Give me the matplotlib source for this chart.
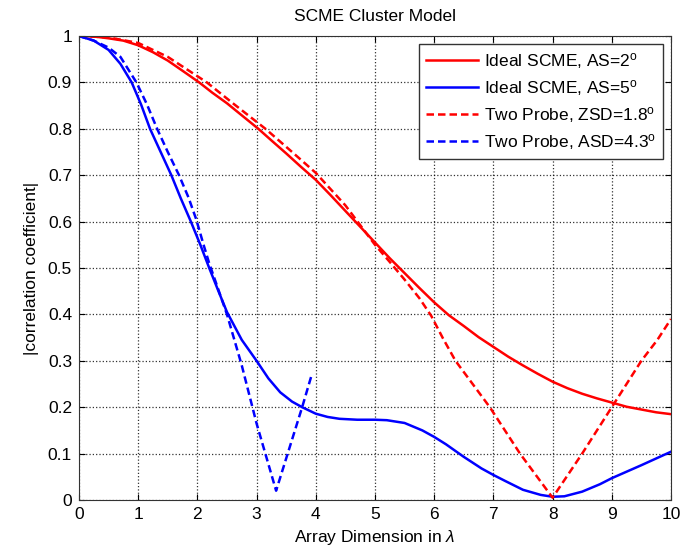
import matplotlib
matplotlib.use("Agg")
import matplotlib.pyplot as plt
import numpy as np

plt.rcParams['font.family'] = ['Liberation Sans', 'DejaVu Sans']
plt.rcParams['mathtext.fontset'] = 'custom'
plt.rcParams['mathtext.rm'] = 'Liberation Sans'
plt.rcParams['mathtext.it'] = 'Liberation Sans:italic'

# ideal SCME, AS = 2 deg (red solid)
x_red = [0, 0.25, 0.5, 0.75, 1, 1.25, 1.5, 1.75, 2.03, 2.25, 2.5, 2.75, 3.03, 3.25, 3.5, 3.75, 4,
         4.25, 4.5, 4.75, 5, 5.25, 5.5, 5.75, 6, 6.25, 6.5, 6.75, 7, 7.25, 7.5, 7.75, 8,
         8.25, 8.5, 8.75, 9, 9.25, 9.5, 9.75, 10]
y_red = [1, 0.999, 0.995, 0.99, 0.98, 0.965, 0.947, 0.925, 0.9, 0.878, 0.855, 0.829, 0.8, 0.775, 0.747, 0.718, 0.69,
         0.657, 0.623, 0.589, 0.555, 0.521, 0.489, 0.457, 0.426, 0.398, 0.375, 0.351, 0.33, 0.309, 0.29, 0.272, 0.255,
         0.241, 0.229, 0.219, 0.21, 0.201, 0.195, 0.189, 0.185]

# two probe, ZSD = 1.8 deg (red dashed)
x_red_d = [0, 0.5, 1, 1.5, 2.16, 2.6, 3.15, 3.6, 4, 4.5, 5, 5.25, 5.5, 5.75, 5.95, 6.15, 6.36, 6.94, 7.45, 8,
           8.5, 9, 9.5, 9.77, 10]
y_red_d = [1, 0.997, 0.985, 0.955, 0.9, 0.855, 0.8, 0.75, 0.705, 0.635, 0.55, 0.513, 0.475, 0.435, 0.397, 0.348, 0.3, 0.2, 0.1, 0.005,
           0.1, 0.2, 0.3, 0.345, 0.39]

# ideal SCME, AS = 5 deg (blue solid)
x_blue = [0, 0.25, 0.5, 0.7, 0.89, 1.05, 1.2, 1.38, 1.56, 1.72, 1.89, 2.05, 2.2, 2.35, 2.5, 2.75, 3.0,
          3.2, 3.4, 3.6, 3.77, 4.0, 4.2, 4.4, 4.7, 5, 5.2, 5.5, 5.8, 6, 6.2, 6.5, 6.8, 7, 7.2,
          7.5, 7.8, 8, 8.2, 8.5, 8.8, 9, 9.5, 10]
y_blue = [1, 0.99, 0.97, 0.94, 0.9, 0.852, 0.8, 0.75, 0.7, 0.65, 0.6, 0.55, 0.5, 0.452, 0.405, 0.345, 0.3,
          0.262, 0.232, 0.212, 0.2, 0.186, 0.179, 0.175, 0.173, 0.173, 0.172, 0.166, 0.15, 0.136, 0.12, 0.093, 0.068, 0.054, 0.041,
          0.022, 0.011, 0.007, 0.008, 0.018, 0.034, 0.047, 0.075, 0.104]

# two probe, ASD = 4.3 deg (blue dashed)
x_blue_d = [0, 0.25, 0.5, 0.7, 0.97, 1.15, 1.32, 1.5, 1.69, 1.85, 1.98, 2.1, 2.2, 2.5, 2.75, 3.0, 3.33, 3.77, 3.92]
y_blue_d = [1, 0.99, 0.975, 0.955, 0.9, 0.852, 0.8, 0.75, 0.7, 0.652, 0.605, 0.552, 0.51, 0.4, 0.29, 0.165, 0.02, 0.2, 0.265]

labels = [r'Ideal SCME, AS=2$^\mathrm{o}$', r'Ideal SCME, AS=5$^\mathrm{o}$',
          r'Two Probe, ZSD=1.8$^\mathrm{o}$', r'Two Probe, ASD=4.3$^\mathrm{o}$']

fs = 12.5
dash = (0, (3, 1.6))

fig = plt.figure(figsize=(6.91, 5.52), dpi=100)
ax = fig.add_axes([0.1143, 0.0942, 0.8567, 0.8406])

ax.plot(x_red, y_red, color='red', lw=1.8, label=labels[0])
ax.plot(x_blue, y_blue, color='blue', lw=1.8, label=labels[1])
ax.plot(x_red_d, y_red_d, color='red', lw=1.8, ls=dash, label=labels[2])
ax.plot(x_blue_d, y_blue_d, color='blue', lw=1.8, ls=dash, label=labels[3])

ax.set_xlim(0, 10)
ax.set_ylim(0, 1)
ax.set_xticks(np.arange(0, 11, 1))
ax.set_yticks(np.round(np.arange(0, 1.01, 0.1), 1))
ax.set_yticklabels(['0', '0.1', '0.2', '0.3', '0.4', '0.5', '0.6', '0.7', '0.8', '0.9', '1'])
ax.tick_params(direction='in', labelsize=fs, length=4, top=True, right=True, pad=5)
ax.grid(True, color='black', ls=':', lw=0.9, alpha=0.8)
for s in ax.spines.values():
    s.set_color('#333333')

ax.set_title('SCME Cluster Model', fontsize=fs, pad=11)
ax.set_xlabel(r'Array Dimension in $\lambda$', fontsize=fs, labelpad=4)
ax.set_ylabel('|correlation coefficient|', fontsize=fs, labelpad=6)

leg = ax.legend(loc='upper right', fontsize=fs, fancybox=False, framealpha=1,
                edgecolor='#333333', handlelength=3.0, handletextpad=0.35,
                borderaxespad=0.45, labelspacing=0.4, borderpad=0.4)
leg.get_frame().set_linewidth(1.0)

fig.savefig('out.png', dpi=100)
